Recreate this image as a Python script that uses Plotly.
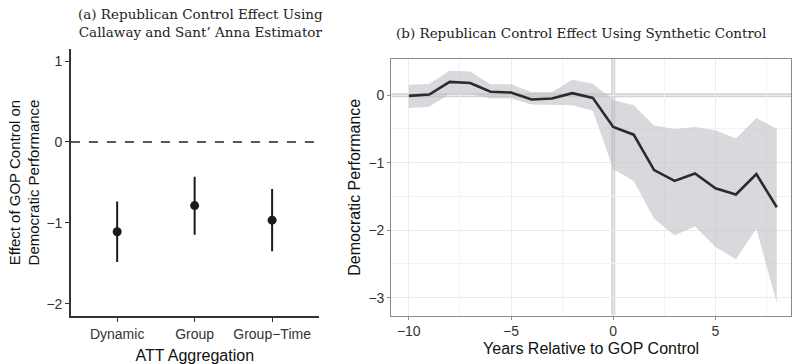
import plotly.graph_objects as go

# Panel (a) data
att_categories = ["Dynamic", "Group", "Group\u2212Time"]
att_estimate = [-1.11, -0.787, -0.967]
att_upper = [-0.738, -0.43, -0.582]
att_lower = [-1.484, -1.148, -1.353]

# Panel (b) data
years = [-10, -9, -8, -7, -6, -5, -4, -3, -2, -1, 0, 1, 2, 3, 4, 5, 6, 7, 8]
synth_effect = [-0.01, 0.01, 0.196, 0.18, 0.05, 0.04, -0.065, -0.05, 0.03, -0.04,
                -0.47, -0.585, -1.11, -1.27, -1.16, -1.38, -1.47, -1.17, -1.66]
synth_upper = [0.15, 0.17, 0.36, 0.35, 0.16, 0.16, 0.045, 0.045, 0.23, 0.17,
               -0.07, -0.15, -0.45, -0.5, -0.47, -0.52, -0.64, -0.34, -0.5]
synth_lower = [-0.19, -0.17, 0.02, 0.02, -0.05, -0.05, -0.14, -0.14, -0.15, -0.23,
               -1.095, -1.27, -1.83, -2.08, -1.94, -2.25, -2.43, -1.98, -3.08]

W, H = 792, 364
def px(x):
    return x / W
def py(y):
    return (H - y) / H

fig = go.Figure()

# Panel (a)
xcat = [1, 2, 3]
for xi, lo, hi in zip(xcat, att_lower, att_upper):
    fig.add_trace(go.Scatter(x=[xi, xi], y=[lo, hi], mode="lines",
                             line=dict(color="#1a1a1a", width=2),
                             xaxis="x", yaxis="y", showlegend=False, hoverinfo="skip"))
fig.add_trace(go.Scatter(x=xcat, y=att_estimate, mode="markers",
                         marker=dict(color="#1a1a1a", size=9),
                         xaxis="x", yaxis="y", showlegend=False))

# Panel (b)
fig.add_trace(go.Scatter(x=years, y=synth_upper, mode="lines",
                         line=dict(width=0, color="rgba(0,0,0,0)"),
                         xaxis="x2", yaxis="y2", showlegend=False, hoverinfo="skip"))
fig.add_trace(go.Scatter(x=years, y=synth_lower, mode="lines", fill="tonexty",
                         fillcolor="rgba(190,192,196,0.6)",
                         line=dict(width=0, color="rgba(0,0,0,0)"),
                         xaxis="x2", yaxis="y2", showlegend=False, hoverinfo="skip"))
fig.add_trace(go.Scatter(x=years, y=synth_effect, mode="lines",
                         line=dict(color="#2b2b2b", width=2.6),
                         xaxis="x2", yaxis="y2", showlegend=False))

sans = "Liberation Sans, Arial, sans-serif"
serif = "DejaVu Serif, serif"

fig.update_layout(
    width=W, height=H,
    margin=dict(l=0, r=0, t=0, b=0),
    paper_bgcolor="white", plot_bgcolor="white",
    font=dict(family=sans, color="#333333"),
    xaxis=dict(domain=[px(71), px(319)], range=[0.403, 3.6],
               tickmode="array", tickvals=xcat, ticktext=att_categories,
               showline=True, linecolor="#333333", linewidth=1.5,
               ticks="outside", ticklen=4, tickcolor="#333333", tickwidth=1,
               tickfont=dict(size=14, color="#333333", family=sans),
               showgrid=False, zeroline=False, anchor="y",
               title=dict(text="ATT Aggregation", font=dict(size=16, color="#111111", family=sans), standoff=11)),
    yaxis=dict(domain=[py(317.7), py(49.3)], range=[-2.152, 1.149],
               tickvals=[-2, -1, 0, 1], ticktext=["\u22122", "\u22121", "0", "1"],
               showline=True, linecolor="#333333", linewidth=1.5,
               ticks="outside", ticklen=4, tickcolor="#333333", tickwidth=1,
               tickfont=dict(size=14, color="#333333", family=sans),
               showgrid=False, zeroline=False, anchor="x",
               title=dict(text="Effect of GOP Control on<br>Democratic Performance",
                          font=dict(size=15, color="#111111", family=sans), standoff=3)),
    xaxis2=dict(domain=[px(391.7), 1.0], range=[-10.86, 8.695],
                tickvals=[-10, -5, 0, 5], ticktext=["\u221210", "\u22125", "0", "5"],
                showline=True, linecolor="#8a8a8a", linewidth=1, mirror=True,
                ticks="outside", ticklen=3, tickcolor="#8a8a8a", tickwidth=1,
                tickfont=dict(size=14, color="#333333", family=sans),
                showgrid=True, gridcolor="#ebebeb", gridwidth=1,
                minor=dict(tickvals=[-7.5, -2.5, 2.5, 7.5], showgrid=True, gridcolor="#f3f3f3", gridwidth=1, ticks=""),
                zeroline=False, anchor="y2",
                title=dict(text="Years Relative to GOP Control", font=dict(size=16, color="#111111", family=sans), standoff=4)),
    yaxis2=dict(domain=[py(317.3), py(59.3)], range=[-3.264, 0.536],
                tickvals=[-3, -2, -1, 0], ticktext=["\u22123", "\u22122", "\u22121", "0"],
                showline=True, linecolor="#8a8a8a", linewidth=1, mirror=True,
                ticks="outside", ticklen=3, tickcolor="#8a8a8a", tickwidth=1,
                tickfont=dict(size=14, color="#333333", family=sans),
                showgrid=True, gridcolor="#ebebeb", gridwidth=1,
                minor=dict(tickvals=[-2.5, -1.5, -0.5], showgrid=True, gridcolor="#f3f3f3", gridwidth=1, ticks=""),
                zeroline=False, anchor="x2",
                title=dict(text="Democratic Performance", font=dict(size=16, color="#111111", family=sans), standoff=3)),
    shapes=[
        dict(type="line", xref="x", yref="y", x0=0.403, x1=3.6, y0=0, y1=0,
             line=dict(color="#222222", width=1.5, dash="dash"), layer="below"),
        dict(type="line", xref="x2", yref="y2", x0=-10.86, x1=8.695, y0=0, y1=0,
             line=dict(color="#d3d3d3", width=4), layer="below"),
        dict(type="line", xref="x2", yref="y2", x0=0, x1=0, y0=-3.264, y1=0.536,
             line=dict(color="#d3d3d3", width=4), layer="below"),
    ],
    annotations=[
        dict(text="(a) Republican Control Effect Using<br>Callaway and Sant\u2019 Anna Estimator",
             xref="paper", yref="paper", x=px(201), y=py(4), xanchor="center", yanchor="top",
             showarrow=False, align="center", font=dict(family=serif, size=13.5, color="#222222")),
        dict(text="(b) Republican Control Effect Using Synthetic Control",
             xref="paper", yref="paper", x=px(582), y=py(23), xanchor="center", yanchor="top",
             showarrow=False, align="center", font=dict(family=serif, size=13.5, color="#222222")),
    ],
)

fig.write_html("out.html")
